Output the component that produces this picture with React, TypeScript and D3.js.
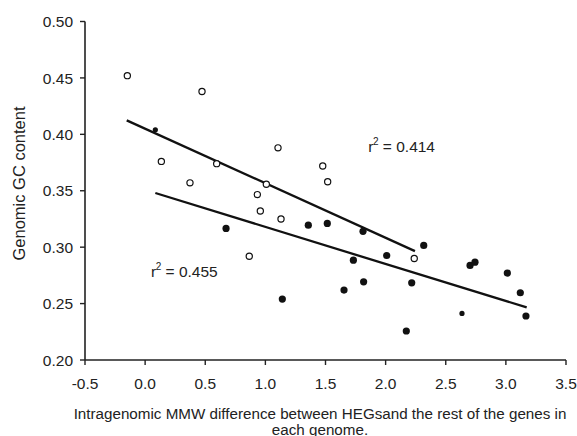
import React from "react";
import * as d3 from "d3";

const openX = [-0.148, 0.473, 0.135, 0.373, 0.595, 1.105, 0.933, 1.008, 0.958, 1.13, 0.866, 1.477, 1.518, 2.238];
const openY = [0.452, 0.438, 0.376, 0.357, 0.374, 0.388, 0.3466, 0.3558, 0.332, 0.325, 0.292, 0.372, 0.358, 0.290];

const filledX = [0.673, 1.141, 1.357, 1.515, 1.812, 2.317, 1.732, 2.009, 2.702, 2.743, 3.012, 1.654, 1.817, 2.217, 3.12, 3.167, 2.172];
const filledY = [0.3166, 0.254, 0.3195, 0.321, 0.314, 0.3015, 0.2885, 0.2926, 0.2838, 0.2867, 0.277, 0.262, 0.2693, 0.2684, 0.2596, 0.239, 0.2257];

const smallX = [0.085, 2.635];
const smallY = [0.404, 0.2413];

const upperLineX = [-0.153, 2.244];
const upperLineY = [0.4124, 0.2965];
const lowerLineX = [0.085, 3.173];
const lowerLineY = [0.348, 0.2466];

const xTicks = [-0.5, 0.0, 0.5, 1.0, 1.5, 2.0, 2.5, 3.0, 3.5];
const yTicks = [0.2, 0.25, 0.3, 0.35, 0.4, 0.45, 0.5];

const annotations = [
  { x: 1.856, y: 0.3844, r: "0.414" },
  { x: 0.049, y: 0.2736, r: "0.455" },
];

export default function App() {
  const W = 577, H = 436;
  const x = d3.scaleLinear().domain([-0.5, 3.5]).range([85, 566]);
  const y = d3.scaleLinear().domain([0.2, 0.5]).range([360, 21.5]);
  const font = "'Liberation Sans', Arial, sans-serif";
  const ink = "#222";
  const line = d3.line<[number, number]>().x(d => x(d[0])).y(d => y(d[1]));
  const up: [number, number][] = upperLineX.map((v, i) => [v, upperLineY[i]]);
  const lo: [number, number][] = lowerLineX.map((v, i) => [v, lowerLineY[i]]);
  return (
    <svg width={W} height={H} style={{ position: "absolute", left: 0, top: 0, background: "#fff" }} fontFamily={font}>
      <rect width={W} height={H} fill="#fff" />
      {/* axes */}
      <line x1={x(-0.5)} x2={x(3.5)} y1={y(0.2)} y2={y(0.2)} stroke={ink} strokeWidth={1.6} />
      <line x1={x(-0.5)} x2={x(-0.5)} y1={y(0.2)} y2={y(0.5)} stroke={ink} strokeWidth={1.6} />
      {xTicks.map(t => (
        <g key={"xt" + t}>
          <line x1={x(t)} x2={x(t)} y1={y(0.2)} y2={y(0.2) + 5} stroke={ink} strokeWidth={1.4} />
          <text x={x(t)} y={y(0.2) + 29} textAnchor="middle" fontSize={15.5} fill={ink}>{t.toFixed(1)}</text>
        </g>
      ))}
      {yTicks.map(t => (
        <g key={"yt" + t}>
          <line x1={x(-0.5) - 5} x2={x(-0.5)} y1={y(t)} y2={y(t)} stroke={ink} strokeWidth={1.4} />
          <text x={73} y={y(t) + 5.7} textAnchor="end" fontSize={15.5} fill={ink}>{t.toFixed(2)}</text>
        </g>
      ))}
      <text transform={`translate(24.5,183.5) rotate(-90)`} textAnchor="middle" fontSize={16.5} fill={ink}>Genomic GC content</text>
      <text x={320} y={419} textAnchor="middle" fontSize={15.2} fill={ink}>Intragenomic MMW difference between HEGsand the rest of the genes in</text>
      <text x={320} y={434.5} textAnchor="middle" fontSize={15.2} fill={ink}>each genome.</text>
      {/* regression lines */}
      <path d={line(up) || ""} stroke="#111" strokeWidth={2.3} fill="none" />
      <path d={line(lo) || ""} stroke="#111" strokeWidth={2.3} fill="none" />
      {/* points */}
      {openX.map((v, i) => (
        <circle key={"o" + i} cx={x(v)} cy={y(openY[i])} r={3.1} fill="#fff" stroke="#111" strokeWidth={1.2} />
      ))}
      {filledX.map((v, i) => (
        <circle key={"f" + i} cx={x(v)} cy={y(filledY[i])} r={3.6} fill="#111" />
      ))}
      {smallX.map((v, i) => (
        <circle key={"s" + i} cx={x(v)} cy={y(smallY[i])} r={2.6} fill="#111" />
      ))}
      {annotations.map((a, i) => (
        <text key={"a" + i} x={x(a.x)} y={y(a.y)} fontSize={15.5} fill={ink}>
          r<tspan dy={-6.5} fontSize={10} dx={-0.5}>2</tspan><tspan dy={6.5}> = {a.r}</tspan>
        </text>
      ))}
    </svg>
  );
}
